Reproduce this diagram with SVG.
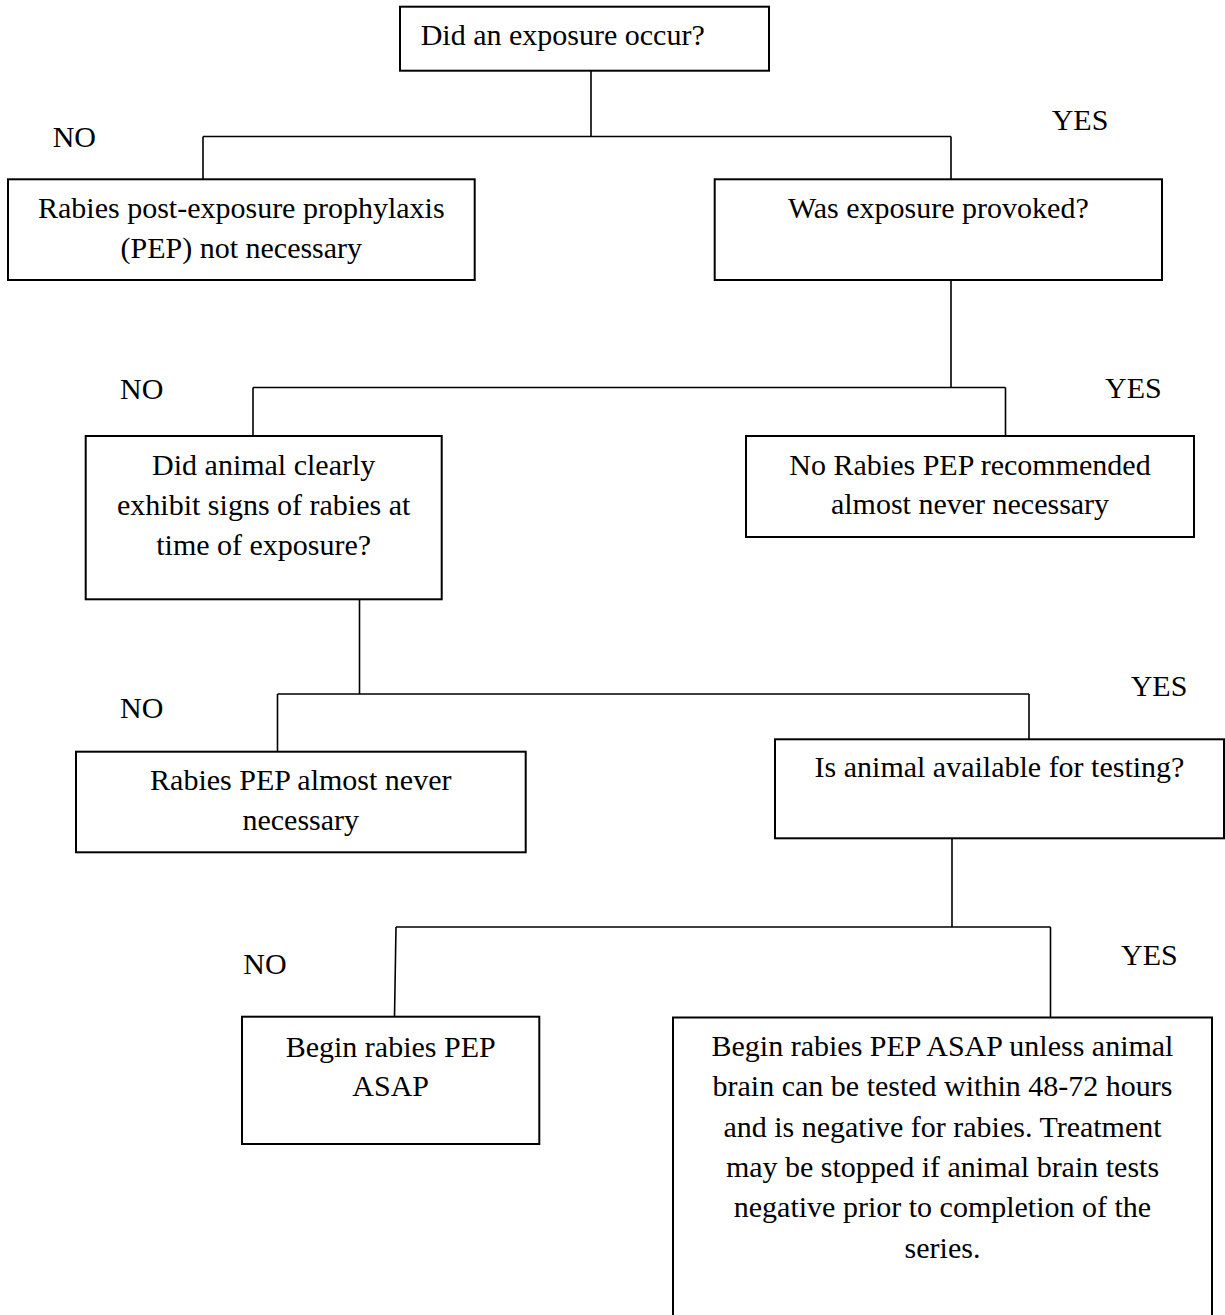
<svg xmlns="http://www.w3.org/2000/svg" width="1225" height="1315" viewBox="0 0 1225 1315">
<style>
  .box { fill: #ffffff; stroke: #000000; stroke-width: 2; }
  .conn { fill: none; stroke: #000000; stroke-width: 1.6; }
  text { font-family: "Liberation Serif", "Times New Roman", serif; font-size: 30px; fill: #000000; }
  .c { text-anchor: middle; }
</style>
<rect x="0" y="0" width="1225" height="1315" fill="#ffffff"/>

<g id="connectors">
  <path class="conn" d="M591,71 V136.5 M203,136.5 H951 M203,136.5 V179 M951,136.5 V179"/>
  <path class="conn" d="M951,280 V387.5 M253,387.5 H1005.5 M253,387.5 V436 M1005.5,387.5 V436"/>
  <path class="conn" d="M359.5,599 V694 M277.5,694 H1029 M277.5,694 V752 M1029,694 V739.5"/>
  <path class="conn" d="M952,838 V927 M396,927 H1050.5 M396,927 L394.5,1017 M1050.5,927 V1017.5"/>
</g>

<g id="labels">
  <text x="52.7" y="147">NO</text>
  <text x="1051.7" y="130">YES</text>
  <text x="120" y="399">NO</text>
  <text x="1105" y="398">YES</text>
  <text x="120" y="718">NO</text>
  <text x="1130.7" y="696">YES</text>
  <text x="243.3" y="974">NO</text>
  <text x="1121" y="965">YES</text>
</g>

<g id="n_exposure">
  <rect class="box" x="400" y="6.7" width="369" height="64"/>
  <text x="420.7" y="45">Did an exposure occur?</text>
</g>

<g id="n_no_pep">
  <rect class="box" x="8" y="179.3" width="466.7" height="100.7"/>
  <text class="c" x="241.3" y="218.3">Rabies post-exposure prophylaxis</text>
  <text class="c" x="241.3" y="258">(PEP) not necessary</text>
</g>

<g id="n_provoked">
  <rect class="box" x="714.7" y="179.3" width="447.3" height="100.7"/>
  <text class="c" x="938.3" y="218.3">Was exposure provoked?</text>
</g>

<g id="n_signs">
  <rect class="box" x="85.7" y="436" width="356" height="163.3"/>
  <text class="c" x="263.7" y="475">Did animal clearly</text>
  <text class="c" x="263.7" y="515">exhibit signs of rabies at</text>
  <text class="c" x="263.7" y="555">time of exposure?</text>
</g>

<g id="n_no_rabies_pep">
  <rect class="box" x="746" y="436" width="448" height="101"/>
  <text class="c" x="970" y="475">No Rabies PEP recommended</text>
  <text class="c" x="970" y="513.5">almost never necessary</text>
</g>

<g id="n_almost_never">
  <rect class="box" x="76" y="751.7" width="449.7" height="100.6"/>
  <text class="c" x="300.8" y="790">Rabies PEP almost never</text>
  <text class="c" x="300.8" y="830">necessary</text>
</g>

<g id="n_available">
  <rect class="box" x="775" y="739.3" width="449" height="99"/>
  <text class="c" x="999.5" y="776.7">Is animal available for testing?</text>
</g>

<g id="n_begin_asap">
  <rect class="box" x="242" y="1016.7" width="297.3" height="127.3"/>
  <text class="c" x="390.7" y="1057">Begin rabies PEP</text>
  <text class="c" x="390.7" y="1096">ASAP</text>
</g>

<g id="n_begin_unless">
  <rect class="box" x="673" y="1017.5" width="539" height="320"/>
  <text class="c" x="942.5" y="1056">Begin rabies PEP ASAP unless animal</text>
  <text class="c" x="942.5" y="1096">brain can be tested within 48-72 hours</text>
  <text class="c" x="942.5" y="1136.5">and is negative for rabies. Treatment</text>
  <text class="c" x="942.5" y="1177">may be stopped if animal brain tests</text>
  <text class="c" x="942.5" y="1217">negative prior to completion of the</text>
  <text class="c" x="942.5" y="1258">series.</text>
</g>
</svg>
